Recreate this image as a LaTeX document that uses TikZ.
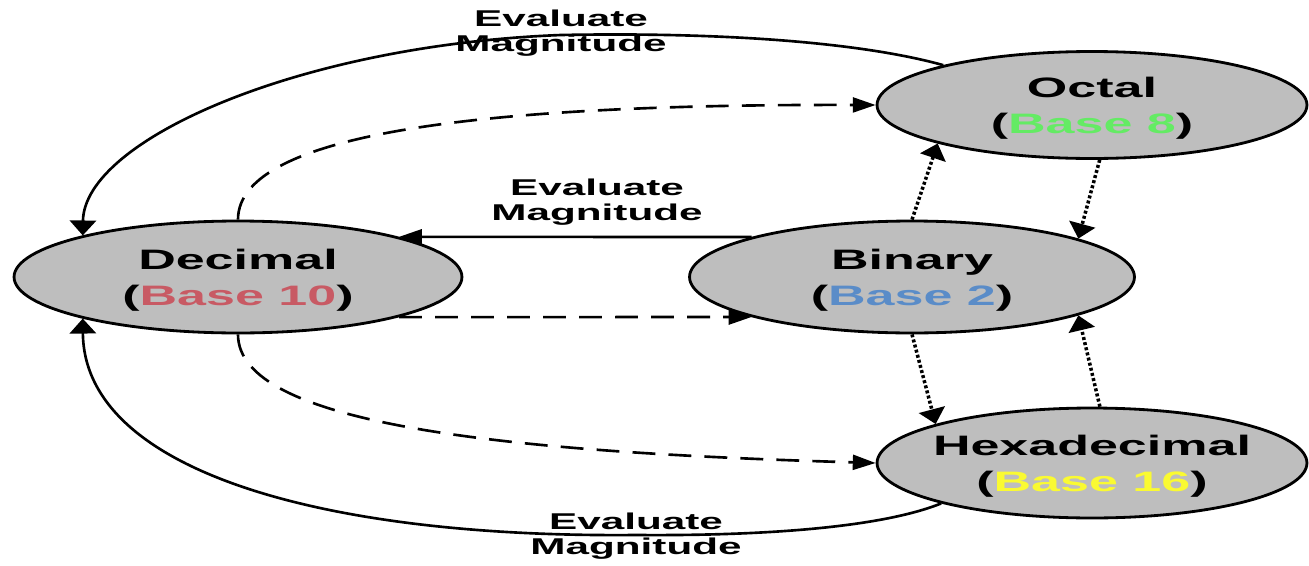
\documentclass[tikz,border=0pt]{standalone}
\usepackage{fontspec}
\setmainfont{Liberation Sans}
\newfontfamily\wide[FakeStretch=1.85]{Liberation Sans}
\usetikzlibrary{shapes.geometric,arrows.meta}
\definecolor{fillgray}{RGB}{190,190,190}
\definecolor{bten}{RGB}{200,90,100}
\definecolor{btwo}{RGB}{90,140,200}
\definecolor{beight}{RGB}{100,235,100}
\definecolor{bsixteen}{RGB}{250,250,50}
\newcommand{\topstrut}{\rule{0pt}{15pt}}
\begin{document}
\begin{tikzpicture}[x=0.02cm,y=-0.02cm,
  base/.style={ellipse,draw=black,line width=1.6pt,fill=fillgray,inner sep=0pt,align=center,
    font=\wide\bfseries\fontsize{16}{20.5}\selectfont},
  lab/.style={align=center,inner sep=0pt,font=\wide\bfseries\fontsize{13}{14}\selectfont},
  vtip/.style={-{Triangle[length=8.5pt,width=15pt]}},
  htip/.style={-{Triangle[length=13pt,width=8.5pt]}},
  solidc/.style={line width=1.5pt},
  dashc/.style={line width=1.5pt,dash pattern=on 13pt off 7.5pt},
  dotc/.style={line width=2pt,dash pattern=on 1.7pt off 1.3pt}]
\useasboundingbox (0,0) rectangle (1309,565);

\node[base,minimum width=8.96cm,minimum height=2.24cm] (dec) at (238,277)
  {\topstrut Decimal\\(\textcolor{bten}{Base 10})};
\node[base,minimum width=8.9cm,minimum height=2.24cm] (bin) at (912,277)
  {\topstrut Binary\\(\textcolor{btwo}{Base 2})};
\node[base,minimum width=8.6cm,minimum height=2.14cm] (oct) at (1092,105)
  {\topstrut Octal\\(\textcolor{beight}{Base 8})};
\node[base,inner xsep=-7pt,minimum width=8.6cm,minimum height=2.2cm] (hex) at (1092,463)
  {\topstrut Hexadecimal\\(\textcolor{bsixteen}{Base 16})};

% solid "Evaluate Magnitude" connectors
\draw[solidc,vtip] (oct.165) .. controls (860,42) and (720,32) .. (561,35)
  .. controls (300,45) and (84,140) .. (dec.165);
\draw[solidc,htip] (bin.166) -- (dec.14);
\draw[solidc,vtip] (hex.195) .. controls (880,528) and (760,536) .. (636,535)
  .. controls (320,538) and (84,470) .. (dec.195);

% dashed connectors
\draw[dashc,htip] (dec.90) .. controls (238,130) and (500,104) .. (oct.180);
\draw[dashc,htip] (dec.-14) -- (bin.194);
\draw[dashc,htip] (dec.270) .. controls (238,424) and (500,452) .. (hex.180);

% dotted connectors
\draw[dotc,vtip] (bin.90) -- (oct.194);
\draw[dotc,vtip] (oct.-82) -- (bin.13);
\draw[dotc,vtip] (bin.-90) -- (hex.166);
\draw[dotc,vtip] (hex.82) -- (bin.-13);

% labels
\node[lab] (l1) at (561,33) {Evaluate\\Magnitude};
\node[lab] (l2) at (597,202) {Evaluate\\Magnitude};
\node[lab] (l3) at (636,536) {Evaluate\\Magnitude};
\end{tikzpicture}
\end{document}
